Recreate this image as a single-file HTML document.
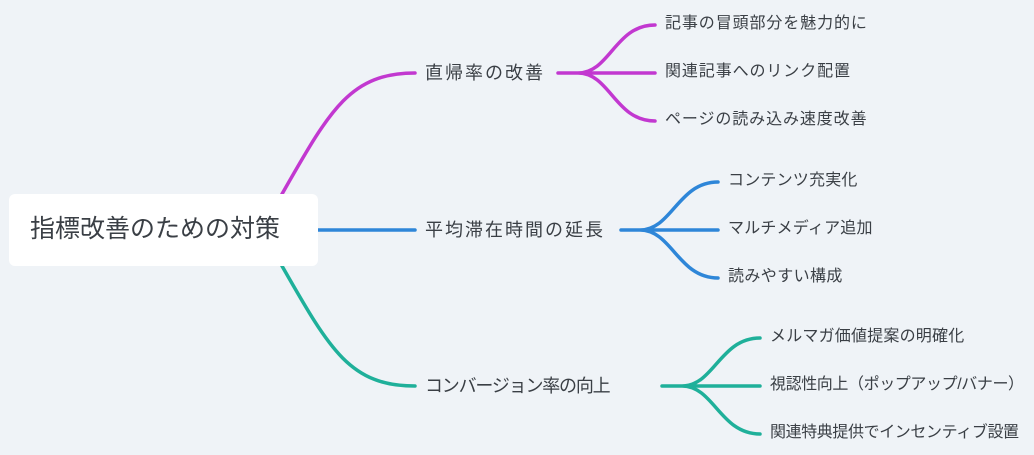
<!DOCTYPE html>
<html><head><meta charset="utf-8"><style>
html,body{margin:0;padding:0;background:#eff3f7;width:1034px;height:455px;overflow:hidden;font-family:"Liberation Sans","Noto Sans CJK JP",sans-serif;color:#3a3f45}
svg{position:absolute;left:0;top:0}
.t{position:absolute;white-space:nowrap;line-height:1}
.m{font-size:18px;letter-spacing:2px}
.c{font-size:16px;letter-spacing:0.9px}
.root{position:absolute;left:9px;top:194px;width:309px;height:72px;background:#fff;border-radius:6px}
</style></head><body>
<svg width="1034" height="455" fill="none" stroke-width="3.5" stroke-linecap="round">
<path d="M282,194 C330,110 350,73 415,73" stroke="#c238d0"/>
<path d="M558,73 L578,73 M578,73 C610,73 615,25 655,25 M578,73 L655,73 M578,73 C610,73 615,121 655,121" stroke="#c238d0"/>
<path d="M318,230 L415,230" stroke="#2e86d8"/>
<path d="M621,230 L640,230 M640,230 C672,230 678,182 718,182 M640,230 L718,230 M640,230 C672,230 678,278 718,278" stroke="#2e86d8"/>
<path d="M282,266 C330,350 350,386 415,386" stroke="#1fb09a"/>
<path d="M662,386 L682,386 M682,386 C714,386 720,338 760,338 M682,386 L760,386 M682,386 C714,386 720,434 760,434" stroke="#1fb09a"/>
</svg>
<div class="root"></div>
<div class="t" style="left:30px;top:217px;font-size:25px">指標改善のための対策</div>
<div class="t m" style="left:425px;top:64px">直帰率の改善</div>
<div class="t m" style="left:425px;top:221px">平均滞在時間の延長</div>
<div class="t m" style="left:425px;top:377px;letter-spacing:-1.2px">コンバージョン率の向上</div>
<div class="t c" style="left:665px;top:16px">記事の冒頭部分を魅力的に</div>
<div class="t c" style="left:665px;top:64px">関連記事へのリンク配置</div>
<div class="t c" style="left:665px;top:112px">ページの読み込み速度改善</div>
<div class="t c" style="left:728px;top:173px;letter-spacing:0.2px">コンテンツ充実化</div>
<div class="t c" style="left:728px;top:221px;letter-spacing:0.2px">マルチメディア追加</div>
<div class="t c" style="left:728px;top:269px;letter-spacing:0.4px">読みやすい構成</div>
<div class="t c" style="left:770px;top:329px;letter-spacing:0.2px">メルマガ価値提案の明確化</div>
<div class="t c" style="left:770px;top:377px;letter-spacing:-0.4px">視認性向上（ポップアップ/バナー）</div>
<div class="t c" style="left:770px;top:425px;letter-spacing:-0.4px">関連特典提供でインセンティブ設置</div>
</body></html>
